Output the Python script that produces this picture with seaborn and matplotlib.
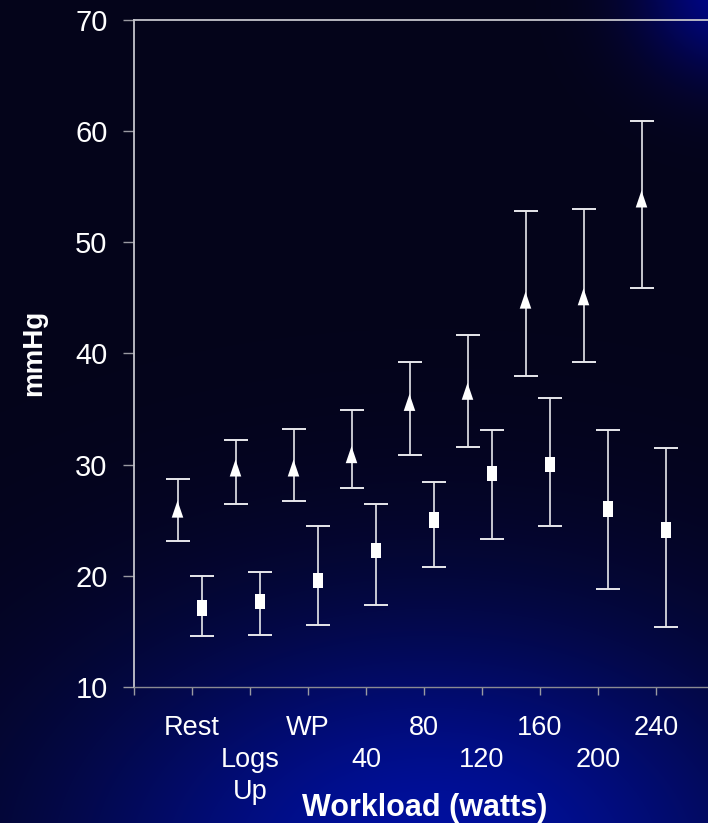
import numpy as np
import pandas as pd
import matplotlib
matplotlib.use("Agg")
import matplotlib.pyplot as plt
import seaborn as sns

sns.set_theme(style="dark")
plt.rcParams["font.family"] = ["Liberation Sans", "DejaVu Sans"]

# Workload stages
categories = ["Rest", "Logs\nUp", "WP", "40", "80", "120", "160", "200", "240"]

# Triangle series (mmHg): mean with upper / lower error limits
tri_mean = [26.0, 29.7, 29.7, 30.9, 35.6, 36.6, 44.8, 45.1, 53.9]
tri_hi = [28.7, 32.2, 33.2, 34.9, 39.2, 41.7, 52.8, 53.0, 60.9]
tri_lo = [23.1, 26.5, 26.7, 27.9, 30.9, 31.6, 38.0, 39.2, 45.9]

# Square series (mmHg): mean with upper / lower error limits
sq_mean = [17.1, 17.7, 19.6, 22.3, 25.0, 29.2, 30.0, 26.0, 24.1]
sq_hi = [20.0, 20.3, 24.5, 26.5, 28.4, 33.1, 36.0, 33.1, 31.5]
sq_lo = [14.6, 14.7, 15.6, 17.4, 20.8, 23.3, 24.5, 18.8, 15.4]

y_ticks = [10, 20, 30, 40, 50, 60, 70]

W, H = 708, 823
fig = plt.figure(figsize=(W / 100, H / 100), dpi=100)

# Dark navy backdrop with a blue glow at the bottom and top-right corner
yy, xx = np.mgrid[0:H, 0:W].astype(float)
base = np.array([5, 4, 26], float)
g1 = np.exp(-((xx - 430) / 360) ** 2 - ((yy - 860) / 240) ** 2)
g2 = np.exp(-((xx - 730) / 90) ** 2 - ((yy + 10) / 85) ** 2)
img = (base[None, None, :]
       + g1[..., None] * np.array([-5, 12, 135])
       + g2[..., None] * np.array([-5, 2, 110]))
img = np.clip(img, 0, 255) / 255.0
bg = fig.add_axes([0, 0, 1, 1])
bg.imshow(img, aspect="auto", interpolation="bilinear")
bg.set_axis_off()

left, bottom = 134 / W, 1 - 687 / H
ax = fig.add_axes([left, bottom, 580 / W, (687 - 20) / H])
ax.set_facecolor("none")

n = len(categories)
pos = np.arange(1, n + 1)
df = pd.DataFrame({
    "x_tri": pos - 0.25, "x_sq": pos + 0.17,
    "tri": tri_mean, "sq": sq_mean,
})

tri_err = [np.array(tri_mean) - np.array(tri_lo), np.array(tri_hi) - np.array(tri_mean)]
sq_err = [np.array(sq_mean) - np.array(sq_lo), np.array(sq_hi) - np.array(sq_mean)]

for xcol, mean, err in (("x_tri", tri_mean, tri_err), ("x_sq", sq_mean, sq_err)):
    ax.errorbar(df[xcol], mean, yerr=err, fmt="none", ecolor="#e8e8ec",
                elinewidth=1.2, capsize=8.3, capthick=1.4, zorder=2)

tri_marker = [(-0.68, -1.0), (0.68, -1.0), (0.0, 1.0)]
rect_marker = [(-0.66, -1.0), (0.66, -1.0), (0.66, 1.0), (-0.66, 1.0)]
sns.scatterplot(data=df, x="x_tri", y="tri", marker=tri_marker, s=150,
                color="white", edgecolor="none", linewidth=0, ax=ax, zorder=3)
sns.scatterplot(data=df, x="x_sq", y="sq", marker=rect_marker, s=125,
                color="white", edgecolor="none", linewidth=0, ax=ax, zorder=3)

ax.set_xlim(0, 10)
ax.set_ylim(10, 70)
ax.set_yticks(y_ticks)
ax.set_yticklabels([str(v) for v in y_ticks], color="white", fontsize=21)

# Category labels alternate between two rows under the axis
ax.set_xticks(np.arange(0, n + 1))
ax.set_xticklabels([""] + [c if i % 2 == 0 else "\n" + c for i, c in enumerate(categories)],
                   color="white", fontsize=19.5, linespacing=1.3, va="top")
ax.tick_params(axis="x", direction="out", length=6, width=1,
               color="#9a9aa2", bottom=True, pad=14)
ax.tick_params(axis="y", direction="out", length=8, width=1, color="#9a9aa2",
               pad=11, left=True)
ax.grid(False)
ax.set_xlabel("")
ax.set_ylabel("")

for side in ("top", "left"):
    ax.spines[side].set_visible(True)
    ax.spines[side].set_color("#c4c4cc")
    ax.spines[side].set_linewidth(1.3)
ax.spines["bottom"].set_visible(True)
ax.spines["bottom"].set_color("#8a8a92")
ax.spines["bottom"].set_linewidth(1.0)
ax.spines["right"].set_visible(False)

fig.text(34 / W, 1 - 353 / H, "mmHg", rotation=90, ha="center", va="center",
         color="white", fontsize=20, fontweight="bold")
fig.text(425 / W, 1 - 808 / H, "Workload (watts)", ha="center", va="center",
         color="white", fontsize=22, fontweight="bold")

fig.savefig("out.png", dpi=100)
